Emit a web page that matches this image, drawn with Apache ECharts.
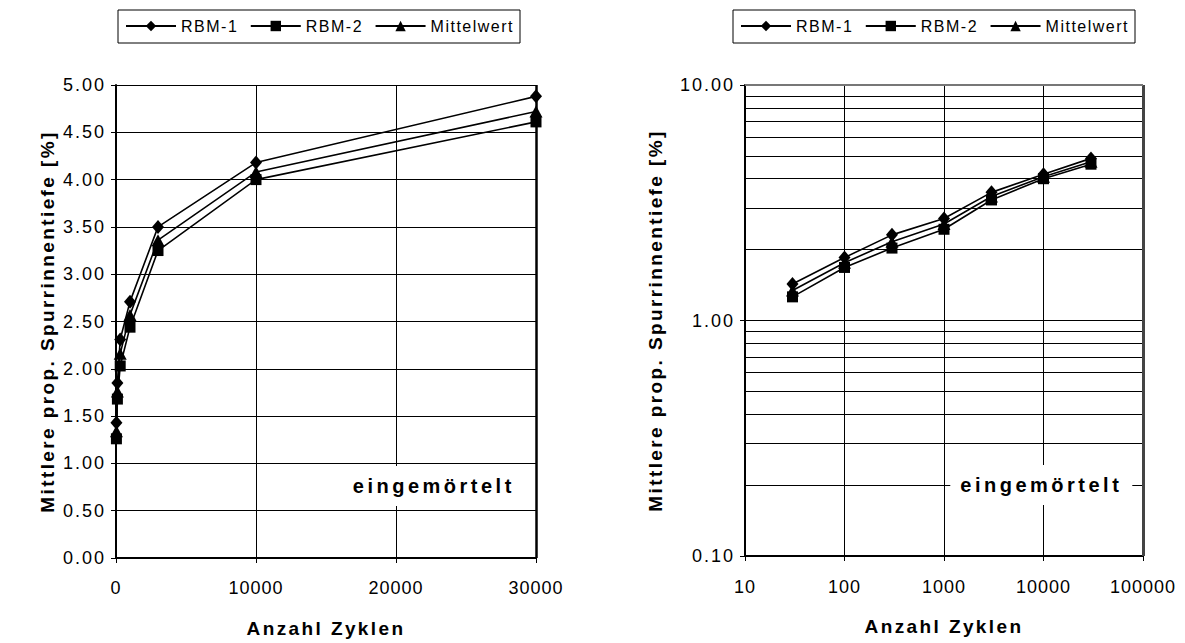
<!DOCTYPE html>
<html>
<head>
<meta charset="utf-8">
<script src="https://cdn.jsdelivr.net/npm/echarts@6/dist/echarts.min.js"></script>
<style>
  html, body { margin: 0; padding: 0; background: #fff; }
  #chart { width: 1185px; height: 643px; }
</style>
</head>
<body>
<div id="chart"></div>
<script>
// Load cycles (Anzahl Zyklen) and mean proportional rut depth [%]
const cycles = [30, 100, 300, 1000, 3000, 10000, 30000];
const rbm1 = [1.43, 1.85, 2.31, 2.71, 3.50, 4.18, 4.88];
const rbm2 = [1.26, 1.68, 2.03, 2.44, 3.25, 4.00, 4.61];
const mittelwert = [1.34, 1.76, 2.16, 2.57, 3.36, 4.08, 4.72];

const seriesNames = ['RBM-1', 'RBM-2', 'Mittelwert'];
const seriesSymbols = ['diamond', 'rect', 'triangle'];
const seriesValues = [rbm1, rbm2, mittelwert];

// Linear axis ticks (left panel)
const linXMin = 0, linXMax = 30000, linXStep = 10000;
const linYMin = 0, linYMax = 5, linYStep = 0.5;
// Log axis ranges (right panel)
const logXMin = 10, logXMax = 100000;
const logYMin = 0.1, logYMax = 10;
// Intermediate log gridlines of the right panel
const logMinorY = [0.2, 0.3, 0.4, 0.5, 0.6, 0.7, 0.8, 0.9, 2, 3, 4, 5, 6, 7, 8, 9];

const panelNote = 'eingemörtelt';
const xTitle = 'Anzahl Zyklen';
const yTitle = 'Mittlere prop. Spurrinnentiefe [%]';

const FONT = '"Liberation Sans", Arial, sans-serif';
const symbolSizes = { diamond: [12, 14], rect: 11, triangle: [13, 12] };

const chart = echarts.init(document.getElementById('chart'), null, { renderer: 'svg' });

function pairs(vals) {
  return cycles.map((c, i) => [c, vals[i]]);
}

function makeSeries(gridIdx) {
  return seriesNames.map((name, k) => ({
    name: name,
    type: 'line',
    xAxisIndex: gridIdx,
    yAxisIndex: gridIdx,
    data: pairs(seriesValues[k]),
    symbol: seriesSymbols[k],
    symbolSize: symbolSizes[seriesSymbols[k]],
    showSymbol: true,
    lineStyle: { color: '#000', width: 1.6 },
    itemStyle: { color: '#000' },
    animation: false,
    z: 5
  }));
}

const legendCommon = {
  data: seriesNames,
  orient: 'horizontal',
  top: 10,
  itemWidth: 50,
  itemHeight: 13,
  itemGap: 19,
  padding: [8, 21, 9, 7],
  borderColor: '#000',
  borderWidth: 1,
  textStyle: { fontFamily: FONT, fontSize: 16, color: '#000' },
  selectedMode: false
};

const axisNameStyle = { fontFamily: FONT, fontSize: 19, fontWeight: 'bold', color: '#000' };
const tickLabelStyle = { fontFamily: FONT, fontSize: 18, color: '#000' };

const option = {
  backgroundColor: '#fff',
  animation: false,
  legend: [
    Object.assign({}, legendCommon, { left: 118 }),
    Object.assign({}, legendCommon, { left: 733 })
  ],
  grid: [
    { left: 116, right: 649, top: 85, bottom: 85, show: false },
    { left: 745, right: 42, top: 85, bottom: 87, show: false }
  ],
  xAxis: [
    {
      type: 'value', gridIndex: 0,
      min: linXMin, max: linXMax, interval: linXStep,
      name: xTitle, nameLocation: 'middle', nameGap: 61,
      nameTextStyle: axisNameStyle,
      axisLine: { show: true, onZero: false, lineStyle: { color: '#000', width: 2 } },
      axisTick: { show: true, inside: false, length: 5, lineStyle: { color: '#000' } },
      axisLabel: Object.assign({ margin: 21, formatter: v => String(v) }, tickLabelStyle),
      splitLine: { show: true, lineStyle: { color: '#000', width: 1 } }
    },
    {
      type: 'log', logBase: 10, gridIndex: 1,
      min: logXMin, max: logXMax,
      name: xTitle, nameLocation: 'middle', nameGap: 61,
      nameTextStyle: axisNameStyle,
      axisLine: { show: true, onZero: false, lineStyle: { color: '#000', width: 2 } },
      axisTick: { show: true, inside: false, length: 5, lineStyle: { color: '#000' } },
      axisLabel: Object.assign({ margin: 22, formatter: v => String(Math.round(v)) }, tickLabelStyle),
      splitLine: { show: true, lineStyle: { color: '#000', width: 1 } }
    }
  ],
  yAxis: [
    {
      type: 'value', gridIndex: 0,
      min: linYMin, max: linYMax, interval: linYStep,
      name: yTitle, nameLocation: 'middle', nameGap: 59, nameRotate: 90,
      nameTextStyle: axisNameStyle,
      axisLine: { show: true, onZero: false, lineStyle: { color: '#000', width: 2 } },
      axisTick: { show: true, inside: false, length: 5, lineStyle: { color: '#000' } },
      axisLabel: Object.assign({ margin: 10, formatter: v => v.toFixed(2) }, tickLabelStyle),
      splitLine: { show: true, lineStyle: { color: '#000', width: 1 } }
    },
    {
      type: 'log', logBase: 10, gridIndex: 1,
      min: logYMin, max: logYMax,
      name: yTitle, nameLocation: 'middle', nameGap: 80, nameRotate: 90,
      nameTextStyle: axisNameStyle,
      axisLine: { show: true, onZero: false, lineStyle: { color: '#000', width: 2 } },
      axisTick: { show: true, inside: false, length: 5, lineStyle: { color: '#000' } },
      axisLabel: Object.assign({ margin: 10, formatter: v => v.toFixed(2) }, tickLabelStyle),
      splitLine: { show: true, lineStyle: { color: '#000', width: 1 } }
    }
  ],
  series: [
    ...makeSeries(0),
    ...makeSeries(1),
    // frame edge on the right of the linear panel
    {
      type: 'line', xAxisIndex: 0, yAxisIndex: 0, data: [], silent: true,
      markLine: {
        silent: true, symbol: 'none', label: { show: false },
        lineStyle: { color: '#000', width: 2.5, type: 'solid' },
        data: [{ xAxis: linXMax }]
      }
    },
    // intermediate gridlines and frame of the log panel
    {
      type: 'line', xAxisIndex: 1, yAxisIndex: 1, data: [], silent: true,
      markLine: {
        silent: true, symbol: 'none', label: { show: false },
        lineStyle: { color: '#000', width: 1, type: 'solid' },
        data: logMinorY.map(v => ({ yAxis: v })).concat([
          { xAxis: logXMax, lineStyle: { color: '#444', width: 3 } },
          { yAxis: logYMax, lineStyle: { color: '#777', width: 2 } }
        ])
      }
    }
  ]
};

chart.setOption(option);

// Boxed note inside each panel, anchored to data coordinates
const noteBox = { w: 182, h: 40 };
function noteGraphics(gridIdx, x, y) {
  const p = chart.convertToPixel({ gridIndex: gridIdx }, [x, y]);
  return [
    {
      type: 'rect', z: 99,
      shape: { x: p[0] - noteBox.w / 2, y: p[1] - noteBox.h / 2, width: noteBox.w, height: noteBox.h },
      style: { fill: '#fff' }
    },
    {
      type: 'text', x: p[0], y: p[1], z: 100,
      style: {
        text: panelNote, fontFamily: FONT, fontSize: 20, fontWeight: 'bold', fill: '#000',
        align: 'center', verticalAlign: 'middle'
      }
    }
  ];
}
chart.setOption({
  graphic: [
    ...noteGraphics(0, 22700, 0.76),
    ...noteGraphics(1, 9500, 0.2)
  ]
});

// Letter spacing per text role (applied to the SVG output)
function spacingFor(s) {
  if (s === panelNote) return 3.5;
  if (s === yTitle) return 2.4;
  if (s === xTitle) return 2.4;
  if (seriesNames.indexOf(s) >= 0) return 1.5;
  if (/^\d+\.\d\d$/.test(s)) return 2;
  if (/^\d+$/.test(s)) return 1;
  return 0;
}
function applySpacing() {
  document.querySelectorAll('#chart svg text').forEach(t => {
    const sp = spacingFor(t.textContent.trim());
    if (sp) {
      t.setAttribute('letter-spacing', sp + 'px');
      t.style.letterSpacing = sp + 'px';
    }
  });
}
if (chart.getZr().flush) chart.getZr().flush();
applySpacing();
chart.on('finished', applySpacing);
</script>
</body>
</html>
